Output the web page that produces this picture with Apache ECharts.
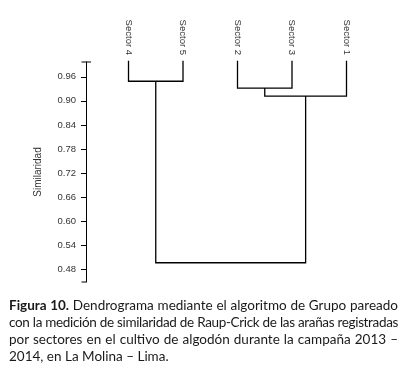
<!DOCTYPE html>
<html>
<head>
<meta charset="utf-8">
<script src="https://cdn.jsdelivr.net/npm/echarts@6/dist/echarts.min.js"></script>
<style>
html,body{margin:0;padding:0;background:#fff;}
#chart{position:absolute;left:0;top:0;width:409px;height:370px;}
#caption{position:absolute;left:9px;top:297px;width:389px;font-family:Lato,sans-serif;font-size:13.5px;line-height:17px;color:#1a1a1a;}
#caption div{text-align:justify;text-align-last:justify;}
#caption div.last{text-align-last:left;}
</style>
</head>
<body>
<div id="chart"></div>
<div id="caption">
  <div><b>Figura 10.</b> Dendrograma mediante el algoritmo de Grupo pareado</div>
  <div>con la medición de similaridad de Raup-Crick de las arañas registradas</div>
  <div>por sectores en el cultivo de algodón durante la campaña 2013 –</div>
  <div class="last">2014, en La Molina – Lima.</div>
</div>
<script>
// leaves in drawing order, clusters 0..4; merges make clusters 5..8
const leaves = ['Sector 4', 'Sector 5', 'Sector 2', 'Sector 3', 'Sector 1'];
const leafTop = 1.0;
const mergeLeft = [0, 2, 6, 5];
const mergeRight = [1, 3, 4, 7];
const mergeHeight = [0.949, 0.932, 0.912, 0.496];
const yTicks = [0.48, 0.54, 0.60, 0.66, 0.72, 0.78, 0.84, 0.90, 0.96];
const yMin = 0.448, yMax = 0.997;
const xMin = -0.78, xMax = 5;

// node positions
let nodeX = leaves.map((d, i) => i);
let nodeY = leaves.map(() => leafTop);
mergeHeight.forEach((h, i) => {
    nodeX.push((nodeX[mergeLeft[i]] + nodeX[mergeRight[i]]) / 2);
    nodeY.push(h);
});

let links = mergeHeight.map((h, i) => {
    let l = mergeLeft[i], r = mergeRight[i];
    return [nodeX[l], nodeY[l], nodeX[r], nodeY[r], h];
});

let myChart = echarts.init(document.getElementById('chart'));
let labelFont = {fontFamily: 'Liberation Sans, Arial, sans-serif', fontSize: 9.5, color: '#333'};

let option = {
    animation: false,
    grid: {left: 86, right: 8, top: 62, bottom: 88, outerBoundsMode: 'none'},
    xAxis: {
        type: 'value',
        position: 'top',
        min: xMin,
        max: xMax,
        axisLine: {show: false, onZero: false},
        axisTick: {show: false},
        splitLine: {show: false},
        axisLabel: Object.assign({
            customValues: [0, 1, 2, 3, 4],
            formatter: v => leaves[Math.round(v)],
            rotate: 90,
            margin: 7,
            padding: [0, 0, 5, 0]
        }, labelFont)
    },
    yAxis: {
        type: 'value',
        min: yMin,
        max: yMax,
        name: 'Similaridad',
        nameLocation: 'middle',
        nameGap: 43,
        nameTextStyle: {fontFamily: 'Liberation Sans, Arial, sans-serif', fontSize: 10, color: '#333'},
        axisLine: {show: true, onZero: false, lineStyle: {color: '#000', width: 1}},
        axisTick: {show: true, customValues: yTicks, length: 5, lineStyle: {color: '#000'}},
        splitLine: {show: false},
        axisLabel: Object.assign({
            customValues: yTicks,
            formatter: v => v.toFixed(2),
            margin: 10
        }, labelFont)
    },
    series: [{
        type: 'custom',
        clip: false,
        data: links,
        encode: {x: [0, 2], y: [1, 3, 4]},
        renderItem: (params, api) => {
            let a = api.coord([api.value(0), api.value(1)]);
            let b = api.coord([api.value(2), api.value(3)]);
            let h = api.value(4);
            let ah = api.coord([api.value(0), h]);
            let bh = api.coord([api.value(2), h]);
            return {
                type: 'polyline',
                shape: {points: [a, ah, bh, b]},
                style: {stroke: '#000', lineWidth: 1.3, fill: null}
            };
        }
    }, {
        // end caps of the y axis
        type: 'custom',
        clip: false,
        data: [[xMin, yMax, 5], [xMin, yMin, 0.5]],
        renderItem: (params, api) => {
            let p = api.coord([api.value(0), api.value(1)]);
            return {
                type: 'line',
                shape: {x1: p[0] - 4.5, y1: p[1], x2: p[0] + api.value(2), y2: p[1]},
                style: {stroke: '#000', lineWidth: 1}
            };
        }
    }]
};

myChart.setOption(option);

// keep each caption line on one row
document.querySelectorAll('#caption div').forEach(el => {
    let ls = 0;
    while (el.getBoundingClientRect().height > 20 && ls > -1) {
        ls -= 0.05;
        el.style.letterSpacing = ls + 'px';
    }
});
</script>
</body>
</html>
